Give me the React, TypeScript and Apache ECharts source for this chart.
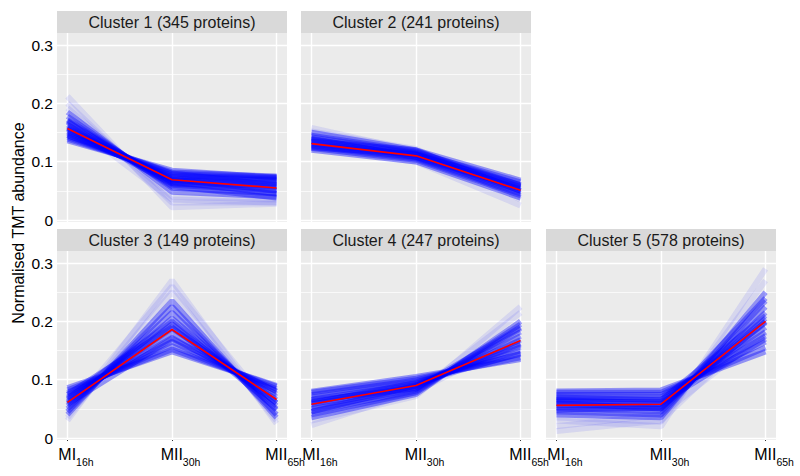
import { useEffect, useRef } from 'react';
import * as echarts from 'echarts';

const timepoints = [0, 1, 2];
const tickLabels = ['MI', 'MII', 'MII'];
const tickSubs = ['16h', '30h', '65h'];
const yTicks = [0, 0.1, 0.2, 0.3];
const yMinorTicks = [0.05, 0.15, 0.25];

const clusterTitles = [
  'Cluster 1 (345 proteins)',
  'Cluster 2 (241 proteins)',
  'Cluster 3 (149 proteins)',
  'Cluster 4 (247 proteins)',
  'Cluster 5 (578 proteins)',
];

const meanProfiles = [
  [0.157, 0.069, 0.055],
  [0.131, 0.11, 0.051],
  [0.061, 0.186, 0.066],
  [0.058, 0.09, 0.167],
  [0.056, 0.058, 0.2],
];

// faint outliers
const cluster1Outliers = [
  [0.212, 0.022, 0.028],
  [0.2, 0.03, 0.03],
  [0.192, 0.04, 0.035],
  [0.17, 0.035, 0.03],
];
// dense core
const cluster1Profiles = [
  [0.185, 0.048, 0.04],
  [0.178, 0.055, 0.045],
  [0.172, 0.06, 0.05],
  [0.168, 0.063, 0.058],
  [0.163, 0.066, 0.06],
  [0.158, 0.068, 0.063],
  [0.155, 0.07, 0.065],
  [0.152, 0.072, 0.068],
  [0.148, 0.074, 0.07],
  [0.145, 0.076, 0.072],
  [0.142, 0.079, 0.074],
  [0.139, 0.082, 0.075],
  [0.136, 0.085, 0.073],
  [0.16, 0.065, 0.045],
  [0.15, 0.07, 0.05],
  [0.17, 0.058, 0.038],
  [0.145, 0.08, 0.06],
  [0.157, 0.062, 0.055],
];

const cluster2Outliers = [
  [0.158, 0.118, 0.04],
  [0.125, 0.1, 0.025],
  [0.152, 0.122, 0.035],
];
const cluster2Profiles = [
  [0.15, 0.12, 0.05],
  [0.145, 0.118, 0.06],
  [0.142, 0.116, 0.065],
  [0.138, 0.114, 0.06],
  [0.135, 0.112, 0.057],
  [0.132, 0.111, 0.053],
  [0.13, 0.109, 0.05],
  [0.128, 0.107, 0.048],
  [0.126, 0.105, 0.045],
  [0.123, 0.103, 0.042],
  [0.12, 0.1, 0.038],
  [0.135, 0.12, 0.068],
  [0.14, 0.108, 0.055],
  [0.124, 0.113, 0.058],
];

const cluster3Outliers = [
  [0.03, 0.27, 0.025],
  [0.035, 0.25, 0.03],
  [0.045, 0.26, 0.04],
];
const cluster3Profiles = [
  [0.04, 0.235, 0.035],
  [0.045, 0.225, 0.04],
  [0.05, 0.215, 0.048],
  [0.055, 0.205, 0.055],
  [0.06, 0.195, 0.06],
  [0.063, 0.188, 0.065],
  [0.066, 0.18, 0.07],
  [0.07, 0.172, 0.075],
  [0.074, 0.165, 0.08],
  [0.078, 0.158, 0.084],
  [0.082, 0.152, 0.088],
  [0.086, 0.148, 0.09],
  [0.068, 0.2, 0.05],
  [0.075, 0.19, 0.06],
  [0.058, 0.17, 0.08],
];

const cluster4Outliers = [
  [0.03, 0.072, 0.225],
  [0.022, 0.08, 0.17],
  [0.05, 0.078, 0.215],
];
const cluster4Profiles = [
  [0.035, 0.075, 0.2],
  [0.04, 0.078, 0.195],
  [0.045, 0.081, 0.188],
  [0.05, 0.084, 0.182],
  [0.054, 0.087, 0.175],
  [0.058, 0.089, 0.168],
  [0.062, 0.091, 0.162],
  [0.066, 0.093, 0.156],
  [0.07, 0.096, 0.15],
  [0.074, 0.099, 0.144],
  [0.078, 0.102, 0.138],
  [0.08, 0.105, 0.135],
  [0.065, 0.085, 0.19],
  [0.06, 0.095, 0.145],
  [0.045, 0.09, 0.16],
];

const cluster5Outliers = [
  [0.03, 0.02, 0.29],
  [0.035, 0.028, 0.27],
  [0.012, 0.03, 0.2],
  [0.02, 0.04, 0.18],
];
const cluster5Profiles = [
  [0.04, 0.035, 0.25],
  [0.045, 0.04, 0.235],
  [0.05, 0.045, 0.225],
  [0.053, 0.05, 0.215],
  [0.056, 0.054, 0.205],
  [0.06, 0.058, 0.198],
  [0.063, 0.062, 0.19],
  [0.066, 0.066, 0.182],
  [0.07, 0.07, 0.175],
  [0.074, 0.074, 0.165],
  [0.078, 0.078, 0.155],
  [0.08, 0.082, 0.148],
  [0.06, 0.05, 0.24],
  [0.07, 0.065, 0.21],
  [0.048, 0.052, 0.2],
  [0.065, 0.06, 0.17],
];

const clusterProfiles = [
  cluster1Profiles,
  cluster2Profiles,
  cluster3Profiles,
  cluster4Profiles,
  cluster5Profiles,
];
const clusterOutliers = [
  cluster1Outliers,
  cluster2Outliers,
  cluster3Outliers,
  cluster4Outliers,
  cluster5Outliers,
];

const FONT = '"Liberation Sans", Arial, Helvetica, sans-serif';
const colLeft = [57, 301, 546];
const rowTop = [33, 251];
const panelW = 230;
const panelH = 189;
const stripH = 22;
const panelCol = [0, 1, 0, 1, 2];
const panelRow = [0, 0, 1, 1, 1];

export default function App() {
  const ref = useRef<HTMLDivElement>(null);
  useEffect(() => {
    document.body.style.margin = '0';
    const chart = echarts.init(ref.current!, null, { renderer: 'svg' });

    const grids: any[] = [];
    const xAxes: any[] = [];
    const yAxes: any[] = [];
    const series: any[] = [];
    const graphics: any[] = [];

    clusterTitles.forEach((title, i) => {
      const left = colLeft[panelCol[i]];
      const top = rowTop[panelRow[i]];
      const bottomRow = panelRow[i] === 1;
      const firstCol = panelCol[i] === 0;
      grids.push({
        left,
        top,
        width: panelW,
        height: panelH,
        show: true,
        backgroundColor: '#EBEBEB',
        borderWidth: 0,
        containLabel: false,
      });
      xAxes.push({
        type: 'value',
        gridIndex: i,
        min: -0.1,
        max: 2.1,
        show: bottomRow,
        axisLine: { show: false },
        splitLine: { show: false },
        axisTick: {
          show: true,
          length: 3,
          customValues: timepoints,
          lineStyle: { color: '#333333', width: 1 },
        },
        axisLabel: {
          show: true,
          customValues: timepoints,
          margin: 1,
          formatter: (v: number) => {
            const k = timepoints.indexOf(Math.round(v));
            return `{m|${tickLabels[k]}}{s|${tickSubs[k]}}`;
          },
          rich: {
            m: { fontSize: 16, fontFamily: FONT, color: '#000000', padding: [0, 0, 0, 17] },
            s: { fontSize: 10.5, fontFamily: FONT, color: '#000000', padding: [15, 0, 0, 0] },
          },
        },
      });
      yAxes.push({
        type: 'value',
        gridIndex: i,
        min: -0.0034,
        max: 0.3206,
        show: firstCol,
        axisLine: { show: false },
        splitLine: { show: false },
        axisTick: {
          show: true,
          length: 3,
          customValues: yTicks,
          lineStyle: { color: '#333333', width: 1 },
        },
        axisLabel: {
          show: true,
          customValues: yTicks,
          margin: 4,
          fontSize: 15.5,
          fontFamily: FONT,
          color: '#000000',
          formatter: (v: number) => String(Math.round(v * 10) / 10),
        },
      });

      // gridlines through the axis scales
      series.push({
        type: 'line',
        xAxisIndex: i,
        yAxisIndex: i,
        data: [],
        z: 1,
        silent: true,
        markLine: {
          silent: true,
          z: 1,
          symbol: ['none', 'none'],
          label: { show: false },
          emphasis: { disabled: true },
          animation: false,
          data: [
            ...yMinorTicks.map((v) => ({ yAxis: v, lineStyle: { color: '#FFFFFF', width: 0.7, type: 'solid' } })),
            ...yTicks.map((v) => ({ yAxis: v, lineStyle: { color: '#FFFFFF', width: 1.4, type: 'solid' } })),
            ...timepoints.map((v) => ({ xAxis: v, lineStyle: { color: '#FFFFFF', width: 1.4, type: 'solid' } })),
          ],
        },
      });

      clusterOutliers[i].forEach((p) => {
        series.push({
          type: 'line',
          xAxisIndex: i,
          yAxisIndex: i,
          z: 3,
          silent: true,
          symbol: 'none',
          data: timepoints.map((t, k) => [t, p[k]]),
          lineStyle: { color: 'rgba(30,30,255,0.1)', width: 6 },
        });
      });
      clusterProfiles[i].forEach((p) => {
        series.push({
          type: 'line',
          xAxisIndex: i,
          yAxisIndex: i,
          z: 3,
          silent: true,
          symbol: 'none',
          data: timepoints.map((t, k) => [t, p[k]]),
          lineStyle: { color: 'rgba(0,0,255,0.38)', width: 5.5 },
        });
      });

      series.push({
        type: 'line',
        xAxisIndex: i,
        yAxisIndex: i,
        z: 4,
        silent: true,
        symbol: 'none',
        data: timepoints.map((t, k) => [t, meanProfiles[i][k]]),
        lineStyle: { color: '#FF0000', width: 1.6 },
      });

      graphics.push({
        type: 'rect',
        shape: { x: left, y: top - stripH, width: panelW, height: stripH },
        style: { fill: '#D9D9D9' },
        silent: true,
      });
      graphics.push({
        type: 'text',
        x: left + panelW / 2,
        y: top - stripH / 2,
        style: {
          text: title,
          fill: '#1A1A1A',
          font: `16px ${FONT}`,
          align: 'center',
          verticalAlign: 'middle',
        },
        silent: true,
      });
    });

    graphics.push({
      type: 'text',
      x: 18,
      y: 223,
      rotation: Math.PI / 2,
      style: {
        text: 'Normalised TMT abundance',
        fill: '#000000',
        font: `16px ${FONT}`,
        align: 'center',
        verticalAlign: 'middle',
      },
      silent: true,
    });

    chart.setOption({
      animation: false,
      backgroundColor: '#FFFFFF',
      grid: grids,
      xAxis: xAxes,
      yAxis: yAxes,
      series,
      graphic: graphics,
    });
    return () => chart.dispose();
  }, []);
  return <div ref={ref} style={{ width: 800, height: 476 }} />;
}
